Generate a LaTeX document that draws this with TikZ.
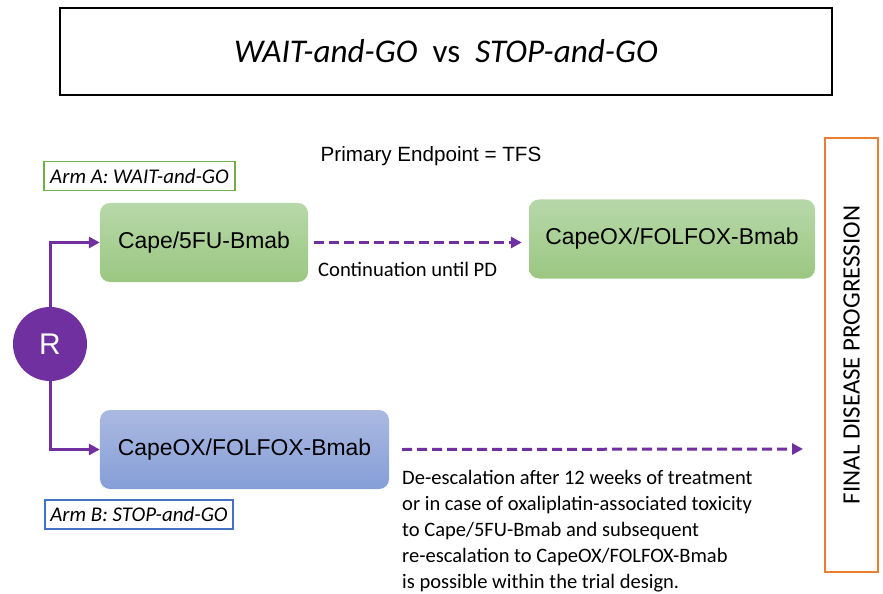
\documentclass[tikz,border=0pt]{standalone}
\usepackage{fontspec}
\setmainfont{Carlito}
\newfontfamily\arialfont{Liberation Sans}
\usetikzlibrary{arrows.meta}
\definecolor{armpurple}{HTML}{7030A0}
\definecolor{greentop}{HTML}{B7D8A9}
\definecolor{greenbot}{HTML}{9BC781}
\definecolor{bluetop}{HTML}{AAB9E1}
\definecolor{bluebot}{HTML}{869ED7}
\definecolor{armgreen}{HTML}{70AD47}
\definecolor{armblue}{HTML}{4472C4}
\definecolor{endorange}{HTML}{ED7D31}
\tikzset{
  treat/.style={rounded corners=10bp, minimum height=79bp, inner sep=0pt,
    font=\arialfont\fontsize{23}{27}\selectfont},
  greenbox/.style={treat, top color=greentop, bottom color=greenbot},
  bluebox/.style={treat, top color=bluetop, bottom color=bluebot},
  armlabel/.style={draw, line width=1.3bp, minimum height=29bp, inner sep=2bp,
    font=\itshape\fontsize{21}{24}\selectfont},
  flow/.style={draw=armpurple, line width=3bp,
    -{Triangle[length=11bp,width=11bp]}},
  cont/.style={flow, dash pattern=on 10bp off 5bp},
}
\begin{document}
\begin{tikzpicture}[x=1bp,y=-1bp]
\useasboundingbox (0,0) rectangle (883,594);

% title
\node[draw, line width=1.5bp, minimum width=772bp, minimum height=87bp, inner sep=0pt]
  (title) at (446,51.5) {\fontsize{33.3}{40}\selectfont\textit{WAIT-and-GO}\ \ vs\ \ \textit{STOP-and-GO}};

\node[font=\arialfont\fontsize{20.7}{24}\selectfont] (endpoint) at (431,156) {Primary Endpoint = TFS};

% arm labels
\node[armlabel, draw=armgreen, minimum width=191bp] (armA) at (139.5,176) {Arm A: WAIT-and-GO};
\node[armlabel, draw=armblue, minimum width=188bp] (armB) at (139,514.5) {Arm B: STOP-and-GO};

% treatment boxes
\node[greenbox, minimum width=208bp] (capeA) at (204,242.5) {Cape/5FU-Bmab};
\node[greenbox, minimum width=286bp] (oxA) at (672,239) {CapeOX/FOLFOX-Bmab};
\node[bluebox, minimum width=289bp] (oxB) at (244.5,449.5) {CapeOX/FOLFOX-Bmab};

% randomisation
\node[circle, fill=armpurple, minimum size=74bp, inner sep=0pt, text=white,
  font=\arialfont\fontsize{30}{32}\selectfont] (R) at (50,344) {R};

% final progression
\node[draw=endorange, line width=2bp, minimum width=53bp, minimum height=434bp, inner sep=0pt]
  (final) at (851.5,355) {};
\node[rotate=90, font=\fontsize{25}{30}\selectfont] (finaltxt) at (final.center) {FINAL DISEASE PROGRESSION};

% connectors
\draw[flow] (R.north) |- (capeA.west);
\draw[flow] (R.south) |- (oxB.west);
\coordinate (endB) at (803,449);
\draw[cont] ([xshift=6bp]capeA.east) -- ([xshift=-7bp]oxA.west |- capeA.east);
\draw[cont] ([xshift=13bp]oxB.east) -- (endB);

% notes
\node[anchor=north west, inner sep=0pt, font=\fontsize{20.7}{24}\selectfont] (contnote) at (318,262) {Continuation until PD};
\node[anchor=north west, inner sep=0pt, align=left, font=\fontsize{20.6}{26}\selectfont] (deesc) at (402,470)
  {De-escalation after 12 weeks of treatment\\
   or in case of oxaliplatin-associated toxicity\\
   to Cape/5FU-Bmab and subsequent\\
   re-escalation to CapeOX/FOLFOX-Bmab\\
   is possible within the trial design.};
\end{tikzpicture}
\end{document}
